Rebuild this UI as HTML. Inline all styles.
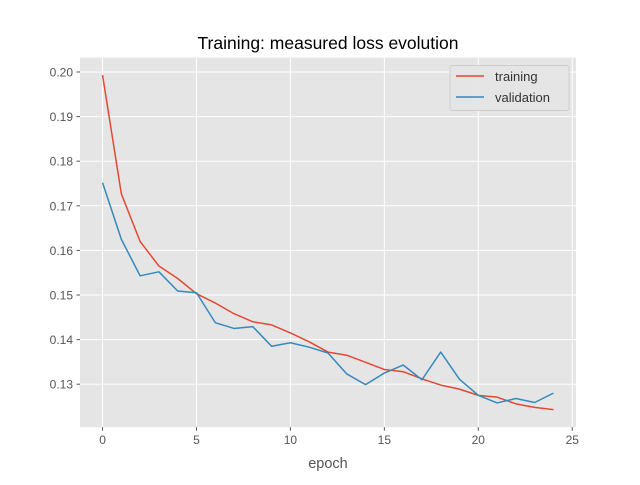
<!DOCTYPE html>
<html><head><meta charset="utf-8"><style>
body{margin:0;background:#fff;}
svg{font-family:"Liberation Sans","DejaVu Sans",sans-serif;}
</style></head><body>
<svg id="chart" width="640" height="480">
<rect x="0" y="0" width="640" height="480" fill="#fff"/>
<rect x="80" y="57.6" width="496" height="369.6" fill="#e5e5e5"/>
<g id="grid"></g>
<g id="ticks"></g>
<g id="series"></g>
<text x="328" y="49" text-anchor="middle" font-size="17.5" fill="#000">Training: measured loss evolution</text>
<text x="328" y="468" text-anchor="middle" font-size="14.5" fill="#555">epoch</text>
<g>
<rect x="450" y="65.5" width="119" height="45" fill="#e5e5e5" stroke="#ccc" stroke-width="1" rx="2" opacity="0.9"/>
<line x1="456" y1="76" x2="484" y2="76" stroke="#E24A33" stroke-width="1.5"/>
<text x="495" y="81" font-size="13" fill="#333">training</text>
<line x1="456" y1="97" x2="484" y2="97" stroke="#348ABD" stroke-width="1.5"/>
<text x="495" y="102" font-size="13" fill="#333">validation</text>
</g>
</svg>
<script>
const epochs=[0,1,2,3,4,5,6,7,8,9,10,11,12,13,14,15,16,17,18,19,20,21,22,23,24];
const training=[0.1993,0.1727,0.1620,0.1565,0.1537,0.1503,0.1482,0.1458,0.1440,0.1433,0.1415,0.1395,0.1372,0.1365,0.1349,0.1333,0.1328,0.1312,0.1298,0.1289,0.1275,0.1271,0.1256,0.1248,0.1243];
const validation=[0.1752,0.1625,0.1543,0.1552,0.1509,0.1505,0.1438,0.1425,0.1429,0.1385,0.1393,0.1383,0.1370,0.1323,0.1299,0.1325,0.1343,0.1310,0.1372,0.1311,0.1275,0.1258,0.1268,0.1259,0.1280];
const xTicks=[0,5,10,15,20,25];
const yTicks=[0.13,0.14,0.15,0.16,0.17,0.18,0.19,0.20];
const NS="http://www.w3.org/2000/svg";
const L=80,R=576,T=57.6,B=427.2;
const xmin=-1.2,xmax=25.2;
const ymin=0.12036,ymax=0.20323;
const sx=v=>L+(v-xmin)/(xmax-xmin)*(R-L);
const sy=v=>B-(v-ymin)/(ymax-ymin)*(B-T);
function mk(tag,attrs,parent){const e=document.createElementNS(NS,tag);for(const k in attrs)e.setAttribute(k,attrs[k]);parent.appendChild(e);return e;}
const grid=document.getElementById('grid'),ticks=document.getElementById('ticks'),series=document.getElementById('series');
xTicks.forEach(t=>{
const x=sx(t);
const g=mk('line',{x1:x,x2:x,y1:T,y2:B,stroke:'#fff','stroke-width':1},grid);


mk('line',{x1:x,x2:x,y1:B,y2:B+3.5,stroke:'#555'},ticks);
const tx=mk('text',{x:x,y:B+17,'text-anchor':'middle','font-size':12,fill:'#555'},ticks);
tx.textContent=t;


});
yTicks.forEach(t=>{
const y=sy(t);
const g=mk('line',{x1:L,x2:R,y1:y,y2:y,stroke:'#fff','stroke-width':1},grid);


mk('line',{x1:L-3.5,x2:L,y1:y,y2:y,stroke:'#555'},ticks);
const tx=mk('text',{x:L-7,y:y+4.5,'text-anchor':'end','font-size':12,fill:'#555'},ticks);
tx.textContent=t.toFixed(2);


});
function line(data,color,name){
const pts=data.map((v,i)=>sx(epochs[i])+','+sy(v)).join(' ');
const p=mk('polyline',{points:pts,fill:'none',stroke:color,'stroke-width':1.5,'stroke-linejoin':'round'},series);


}
line(training,'#E24A33','training-line');
line(validation,'#348ABD','validation-line');
</script>
</body></html>
